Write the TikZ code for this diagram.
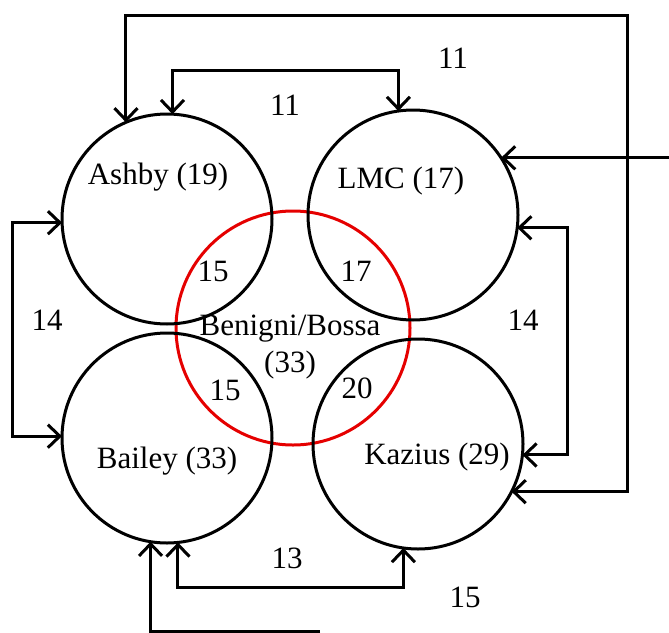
\documentclass[tikz,border=0pt]{standalone}
\usepackage{fontspec}
\setmainfont{Liberation Serif}
\usetikzlibrary{arrows.meta, positioning}

\begin{document}
\begin{tikzpicture}[
  x=1pt, y=-1pt,
  every node/.style={font=\fontsize{31}{37}\selectfont},
  grp/.style={
    draw,
    circle,
    line width=3pt,
    minimum size=210pt,
    inner sep=0pt,
    outer sep=0pt
  },
  core/.style={
    grp,
    draw=red!90!black,
    minimum size=234pt
  },
  arr/.style={
    {Straight Barb[length=12pt,width=23pt]}-{Straight Barb[length=12pt,width=23pt]},
    line width=3pt
  },
  arrin/.style={
    arr,
    -{Straight Barb[length=12pt,width=23pt]}
  }
]
\useasboundingbox (0,0) rectangle (669,632);

% Sets
\node [core] (benigni) at (293,328) {};
\node [grp] (ashby) at (167,219) {};
\node [grp] (lmc) at (413,215) {};
\node [grp] (bailey) at (167,438) {};
\node [grp] (kazius) at (418,444) {};

% Set names
\node (tashby) at (158,177) {Ashby (19)};
\node (tlmc) at (401,181) {LMC (17)};
\node (tbailey) at (167,461) {Bailey (33)};
\node (tkazius) at (437,457) {Kazius (29)};
\node [align=center] (tbenigni) at (290,347) {Benigni/Bossa\\(33)};

% Overlaps
\node (oab) at (213,271) {15};
\node (obl) at (356,271) {17};
\node (obb) at (225,390) {15};
\node (obk) at (357,388) {20};

% Route corners
\coordinate (top) at (627,15);
\coordinate (mid) at (0,70);
\coordinate (lw) at (12,0);
\coordinate (rw) at (567,0);
\coordinate (bw) at (0,587);
\coordinate (edge) at (690,0);
\coordinate (cut) at (320,631);

% Connectors
\draw [arr] (ashby.87) -- (ashby.87 |- mid) -| (lmc.98);
\draw [arr] (kazius.-27) -| (top) -| (ashby.113);
\draw [arr] (ashby.182) -- (ashby.182 -| lw) |- (bailey.179);
\draw [arr] (lmc.-7) -- (lmc.-7 -| rw) |- (kazius.-6);
\draw [arr] (bailey.-84) -- (bailey.-84 |- bw) -| (kazius.-98);
\draw [arrin] (lmc.33 -| edge) -- (lmc.33);
\draw [arrin] (cut) -| (bailey.-99);

% Counts
\node (n11a) at (285,105) {11};
\node (n11b) at (453,58) {11};
\node (n14a) at (47,320) {14};
\node (n14b) at (523,320) {14};
\node (n13) at (287,558) {13};
\node (n15) at (465,597) {15};

\end{tikzpicture}
\end{document}
